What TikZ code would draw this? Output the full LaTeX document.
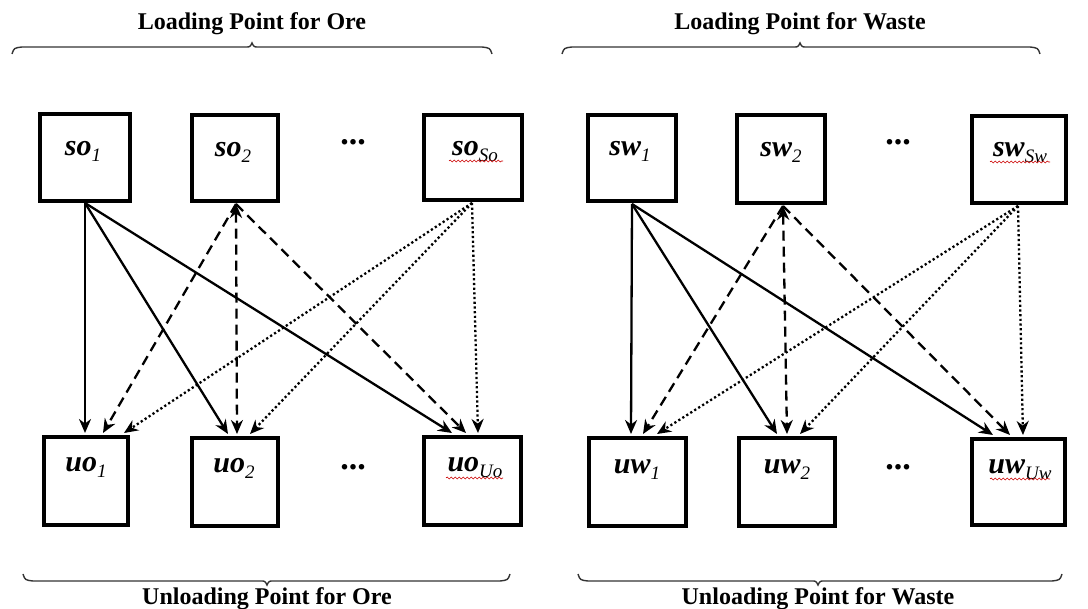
\documentclass[tikz,border=0pt]{standalone}
\usepackage{fontspec}
\setmainfont{Liberation Serif}
\usetikzlibrary{arrows.meta,decorations.pathmorphing}
\newcommand{\lab}[2]{{\fontsize{30}{30}\selectfont\bfseries\itshape #1}{\fontsize{19}{19}\selectfont\itshape\raisebox{-6pt}{#2}}}
\begin{document}
\begin{tikzpicture}[x=1pt,y=-1pt,
  box/.style={draw,line width=4pt,inner sep=0pt,outer sep=0pt},
  lbl/.style={anchor=base,inner sep=0pt},
  ttl/.style={anchor=base,inner sep=0pt,font=\fontsize{24}{24}\selectfont\bfseries},
  dots/.style={inner sep=0pt,font=\fontsize{34}{34}\selectfont\bfseries},
  con/.style={line width=2.3pt,-{Stealth[length=14pt,width=12pt]}},
  sol/.style={con},
  dsh/.style={con,dash pattern=on 10pt off 6pt},
  dot/.style={con,dash pattern=on 2.2pt off 2.5pt},
  both/.style={{Stealth[length=14pt,width=12pt]}-{Stealth[length=14pt,width=12pt]}},
  brc/.style={line width=1.4pt,draw=black!80},
  squig/.style={draw=red!80!black,line width=0.6pt,decorate,decoration={snake,amplitude=1pt,segment length=4pt}}]
\useasboundingbox (0,0) rectangle (1088,609);
% top boxes
\node[box,minimum width=90pt,minimum height=87pt] (so1) at (85,157.5) {};
\node[box,minimum width=86pt,minimum height=86pt] (so2) at (235,158) {};
\node[box,minimum width=98pt,minimum height=85pt] (soS) at (473,157.5) {};
\node[box,minimum width=88pt,minimum height=86pt] (sw1) at (632,158) {};
\node[box,minimum width=88pt,minimum height=88pt] (sw2) at (781,159) {};
\node[box,minimum width=94pt,minimum height=87pt] (swS) at (1019,159.5) {};
% bottom boxes
\node[box,minimum width=84pt,minimum height=88pt] (uo1) at (86,481) {};
\node[box,minimum width=86pt,minimum height=88pt] (uo2) at (235,482) {};
\node[box,minimum width=97pt,minimum height=88pt] (uoU) at (472.5,481) {};
\node[box,minimum width=97pt,minimum height=88pt] (uw1) at (637.5,482) {};
\node[box,minimum width=96pt,minimum height=88pt] (uw2) at (787,482) {};
\node[box,minimum width=93pt,minimum height=86pt] (uwU) at (1018.5,482) {};
% labels
\node[lbl] (tso1) at (83,156) {\lab{so}{1}};
\node[lbl] (tso2) at (233,157) {\lab{so}{2}};
\node[lbl] (tsoS) at (475,156) {\lab{so}{So}};
\node[lbl] (tsw1) at (630,156) {\lab{sw}{1}};
\node[lbl] (tsw2) at (781,157) {\lab{sw}{2}};
\node[lbl] (tswS) at (1020,157) {\lab{sw}{Sw}};
\node[lbl] (tuo1) at (86,472) {\lab{uo}{1}};
\node[lbl] (tuo2) at (234,473) {\lab{uo}{2}};
\node[lbl] (tuoU) at (475,472) {\lab{uo}{Uo}};
\node[lbl] (tuw1) at (637,474) {\lab{uw}{1}};
\node[lbl] (tuw2) at (787,474) {\lab{uw}{2}};
\node[lbl] (tuwU) at (1020,474) {\lab{uw}{Uw}};
% spell-check squiggles
\draw[squig] (449,161) -- (503,161);
\draw[squig] (990,162) -- (1050,162);
\draw[squig] (446,478) -- (503,478);
\draw[squig] (990,479) -- (1050,479);
% dots
\node[dots] (d1) at (353,142) {...};
\node[dots] (d2) at (898,142) {...};
\node[dots] (d3) at (353,467) {...};
\node[dots] (d4) at (898,467) {...};
% titles
\node[ttl] (t1) at (252,30) {Loading Point for Ore};
\node[ttl] (t2) at (800,30) {Loading Point for Waste};
\node[ttl] (t3) at (267,605) {Unloading Point for Ore};
\node[ttl] (t4) at (818,605) {Unloading Point for Waste};
% braces
\draw[brc] (12,54) .. controls (14,48) .. (22,47) -- (246,47) .. controls (250,47) .. (252,43) .. controls (254,47) .. (258,47) -- (482,47) .. controls (490,48) .. (492,54);
\draw[brc] (562,54) .. controls (564,48) .. (572,47) -- (794,47) .. controls (798,47) .. (800,43) .. controls (802,47) .. (806,47) -- (1030,47) .. controls (1038,48) .. (1040,54);
\draw[brc] (23,574) .. controls (25,580) .. (33,581) -- (261,581) .. controls (265,581) .. (267,585) .. controls (269,581) .. (273,581) -- (500,581) .. controls (508,580) .. (510,574);
\draw[brc] (578,574) .. controls (580,580) .. (588,581) -- (812,581) .. controls (816,581) .. (818,585) .. controls (820,581) .. (824,581) -- (1052,581) .. controls (1060,580) .. (1062,574);
% attachment points
\coordinate (a1) at (85,203);
\coordinate (a2) at (236,204);
\coordinate (a3) at (472,203);
\coordinate (b1) at (632,204);
\coordinate (b2) at (783,206);
\coordinate (b3) at (1018,206);
\coordinate (p11) at (85,433); \coordinate (p12) at (103,433); \coordinate (p13) at (124,433);
\coordinate (p21) at (228,434); \coordinate (p22) at (237,434); \coordinate (p23) at (250,434);
\coordinate (p31) at (452,433); \coordinate (p32) at (466,433); \coordinate (p33) at (478,433);
\coordinate (q11) at (631,434); \coordinate (q12) at (643,434); \coordinate (q13) at (657,434);
\coordinate (q21) at (777,434); \coordinate (q22) at (787,434); \coordinate (q23) at (800,434);
\coordinate (q31) at (993,435); \coordinate (q32) at (1010,435); \coordinate (q33) at (1023,435);
% ore connectors
\draw[sol] (a1) -- (p11);
\draw[sol] (a1) -- (p21);
\draw[sol] (a1) -- (p31);
\draw[dsh] (a2) -- (p12);
\draw[dsh,both] (a2) -- (p22);
\draw[dsh] (a2) -- (p32);
\draw[dot] (a3) -- (p13);
\draw[dot] (a3) -- (p23);
\draw[dot] (a3) -- (p33);
% waste connectors
\draw[sol] (b1) -- (q11);
\draw[sol] (b1) -- (q21);
\draw[sol] (b1) -- (q31);
\draw[dsh] (b2) -- (q12);
\draw[dsh,both] (b2) -- (q22);
\draw[dsh] (b2) -- (q32);
\draw[dot] (b3) -- (q13);
\draw[dot] (b3) -- (q23);
\draw[dot] (b3) -- (q33);
\end{tikzpicture}
\end{document}
